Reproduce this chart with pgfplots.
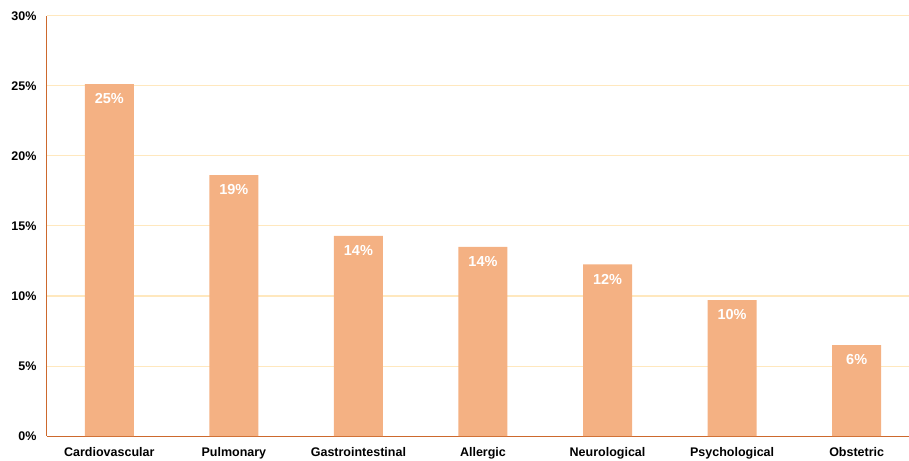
\documentclass[border=0pt]{standalone}
\usepackage{pgfplots}
\pgfplotsset{compat=1.18}
\usepackage{fontspec}
\setmainfont{Liberation Sans}
\definecolor{barc}{RGB}{244,177,131}
\definecolor{axc}{RGB}{205,105,45}
\definecolor{gridc}{RGB}{255,232,190}
\begin{document}
\begin{tikzpicture}
\useasboundingbox (-47pt,-24pt) rectangle (862pt,436pt);
\begin{axis}[
  scale only axis,
  width=862pt, height=420pt,
  ymin=0, ymax=30,
  xmin=-0.5, xmax=6.42,
  ytick={0,5,10,15,20,25,30},
  yticklabel={\pgfmathprintnumber{\tick}\%},
  xtick=data,
  xticklabels={Cardiovascular,Pulmonary,Gastrointestinal,Allergic,Neurological,Psychological,Obstetric},
  /pgf/number format/assume math mode=true,
  tick label style={font=\fontsize{12.5}{14}\selectfont\bfseries, text=black},
  yticklabel style={xshift=-7pt},
  xticklabel style={yshift=-8pt},
  major tick length=0pt,
  axis x line*=bottom,
  axis y line*=left,
  axis line style={draw=axc, line width=1pt, -},
  ymajorgrids,
  grid style={draw=gridc, line width=1pt},
  clip=false,
]
\addplot[ybar, bar width=49pt, fill=barc, draw=none,
  point meta=explicit symbolic,
  nodes near coords,
  every node near coord/.append style={anchor=north, yshift=-6pt, text=white, font=\fontsize{14.5}{16}\selectfont\bfseries},
] coordinates {
  (0,25.14) [25\%]
  (1,18.64) [19\%]
  (2,14.29) [14\%]
  (3,13.5) [14\%]
  (4,12.25) [12\%]
  (5,9.71) [10\%]
  (6,6.5) [6\%]
};
\end{axis}
\end{tikzpicture}
\end{document}
